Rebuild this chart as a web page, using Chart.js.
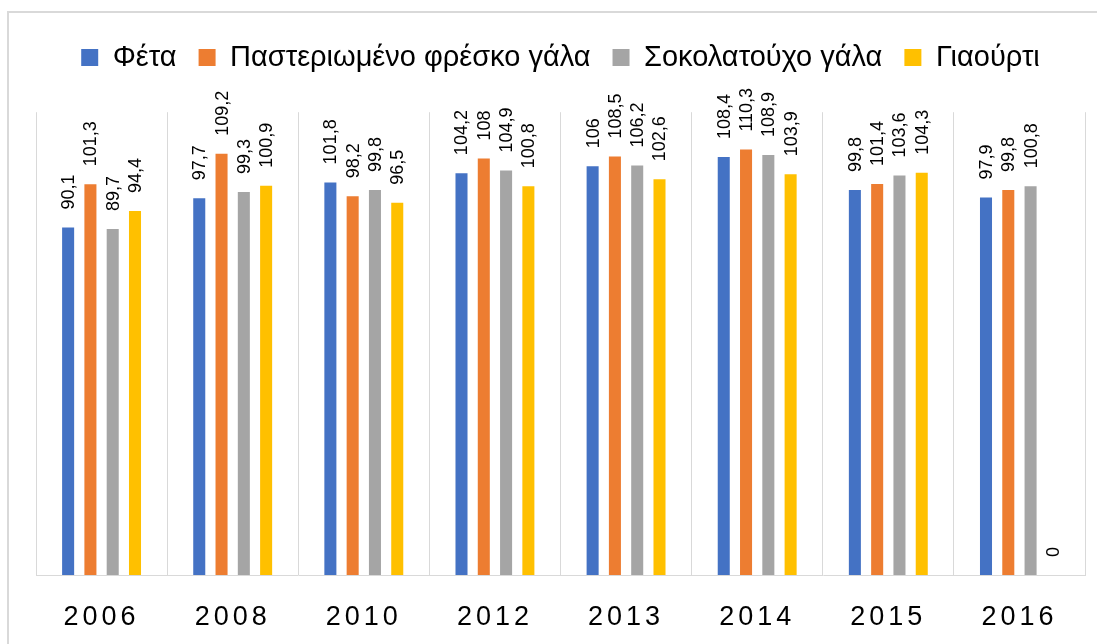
<!DOCTYPE html>
<html>
<head>
<meta charset="utf-8">
<script src="https://cdn.jsdelivr.net/npm/chart.js"></script>
<style>
  html, body { margin: 0; padding: 0; background: #fff; overflow: hidden; }
  #wrap { position: relative; width: 1097px; height: 644px; }
  #frame { position: absolute; left: 7px; top: 11px; width: 1110px; height: 660px;
           border: 2px solid #d9d9d9; box-sizing: border-box; }
  canvas { position: absolute; left: 0; top: 0; }
</style>
</head>
<body>
<div id="wrap">
  <div id="frame"></div>
  <canvas id="chart" width="1097" height="644"></canvas>
</div>
<script>
// data
const years = ['2006', '2008', '2010', '2012', '2013', '2014', '2015', '2016'];
const feta = [90.1, 97.7, 101.8, 104.2, 106, 108.4, 99.8, 97.9];
const milk = [101.3, 109.2, 98.2, 108, 108.5, 110.3, 101.4, 99.8];
const chocoMilk = [89.7, 99.3, 99.8, 104.9, 106.2, 108.9, 103.6, 100.8];
const yogurt = [94.4, 100.9, 96.5, 100.8, 102.6, 103.9, 104.3, 0];

const seriesNames = ['Φέτα', 'Παστεριωμένο φρέσκο γάλα', 'Σοκολατούχο γάλα', 'Γιαούρτι'];
const colors = ['#4472C4', '#ED7D31', '#A5A5A5', '#FFC000'];
const allSeries = [feta, milk, chocoMilk, yogurt];

const fontFamily = '"Liberation Sans", Arial, sans-serif';

// value labels, rotated, above each bar
const valueLabels = {
  id: 'valueLabels',
  afterDatasetsDraw(chart) {
    const ctx = chart.ctx;
    ctx.save();
    ctx.letterSpacing = '0px';
    ctx.font = '18px ' + fontFamily;
    ctx.fillStyle = '#000';
    ctx.textAlign = 'left';
    ctx.textBaseline = 'middle';
    chart.data.datasets.forEach((ds, i) => {
      const meta = chart.getDatasetMeta(i);
      meta.data.forEach((bar, j) => {
        const txt = String(ds.data[j]).replace('.', ',');
        ctx.save();
        ctx.translate(bar.x + 1, bar.y - 18);
        ctx.rotate(-Math.PI / 2);
        ctx.fillText(txt, 0, 0);
        ctx.restore();
      });
    });
    ctx.restore();
    // spaced out year labels are drawn after this (ticks z = 1)
    ctx.letterSpacing = '4px';
  },
  afterDraw(chart) {
    chart.ctx.letterSpacing = '0px';
  }
};

new Chart(document.getElementById('chart'), {
  type: 'bar',
  data: {
    labels: years,
    datasets: allSeries.map((vals, i) => ({
      label: seriesNames[i],
      data: vals,
      backgroundColor: colors[i],
      borderWidth: 0,
      categoryPercentage: 0.68,
      barPercentage: 0.54
    }))
  },
  options: {
    responsive: false,
    animation: false,
    layout: { padding: { left: 36, right: 12, top: 21, bottom: 8 } },
    plugins: {
      legend: {
        position: 'top',
        labels: {
          boxWidth: 17,
          boxHeight: 17,
          padding: 22,
          color: '#000',
          font: { family: fontFamily, size: 29 }
        }
      },
      // empty spacer between legend and plot
      subtitle: {
        display: true,
        text: '',
        weight: 500,
        padding: 14.5,
        font: { size: 1 }
      },
      tooltip: { enabled: false }
    },
    scales: {
      x: {
        grid: { color: '#d9d9d9', lineWidth: 1, drawTicks: false, offset: true },
        border: { color: '#d9d9d9', width: 1 },
        ticks: {
          z: 1,
          color: '#000',
          padding: 26,
          font: { family: fontFamily, size: 27 }
        },
        afterFit(scale) { scale.height = 61; }
      },
      y: {
        display: false,
        min: 0,
        max: 120
      }
    }
  },
  plugins: [valueLabels]
});
</script>
</body>
</html>
